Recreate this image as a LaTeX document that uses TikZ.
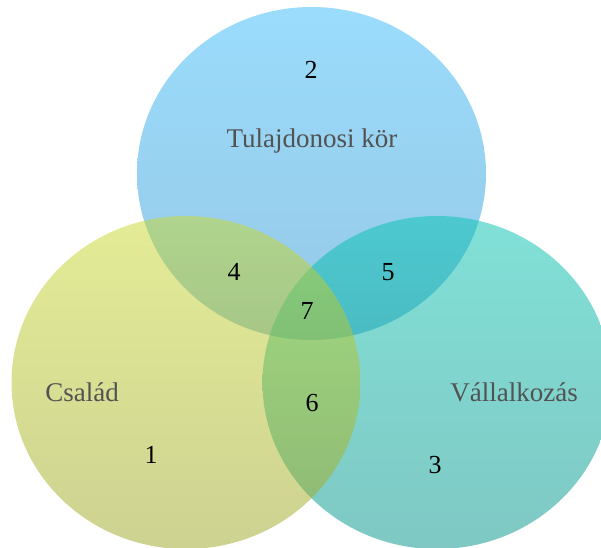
\documentclass[tikz,border=0pt]{standalone}
\usepackage{fontspec}
\setmainfont{Liberation Serif}
\usepackage{tikz}
\usetikzlibrary{positioning}
\definecolor{OwnerTop}{RGB}{55,185,249}
\definecolor{OwnerBottom}{RGB}{45,145,205}
\definecolor{FamilyTop}{RGB}{201,217,45}
\definecolor{FamilyBottom}{RGB}{155,165,35}
\definecolor{BusinessTop}{RGB}{2,195,176}
\definecolor{BusinessBottom}{RGB}{0,145,137}
\definecolor{LabelColor}{RGB}{82,82,82}

\begin{document}
\begin{tikzpicture}[x=1pt, y=-1pt,
    set/.style={fill opacity=0.5},
    label text/.style={text=LabelColor, font=\fontsize{27}{30}\selectfont, inner sep=0pt},
    num/.style={text=black, font=\fontsize{26}{28}\selectfont, inner sep=0pt}]
      \useasboundingbox (0,0) rectangle (601,547);
      \clip (0,0) rectangle (601,547);
      % the three sets
      \coordinate (owner) at (311.5,173.5);
      \coordinate (family) at (186,382.5);
      \coordinate (business) at (437,382.5);
      \shade[set, top color=OwnerTop, bottom color=OwnerBottom] (owner) ellipse [x radius=174.5pt, y radius=166.5pt];
      \shade[set, top color=BusinessTop, bottom color=BusinessBottom] (business) ellipse [x radius=174.5pt, y radius=166.5pt];
      \shade[set, top color=FamilyTop, bottom color=FamilyBottom] (family) ellipse [x radius=174.5pt, y radius=166.5pt];
      % labels
      \node[label text] (ownerlbl) at (312,141) {Tulajdonosi kör};
      \node[label text] (familylbl) at (82,392) {Család};
      \node[label text] (businesslbl) at (514,392) {Vállalkozás};
      % region numbers
      \node[num] (n2) at (311,70) {2};
      \node[num] (n4) at (234,272) {4};
      \node[num] (n5) at (388,272) {5};
      \node[num] (n7) at (307,311) {7};
      \node[num] (n6) at (312,403) {6};
      \node[num] (n1) at (151,455) {1};
      \node[num] (n3) at (435,465) {3};
    \end{tikzpicture}
\end{document}
